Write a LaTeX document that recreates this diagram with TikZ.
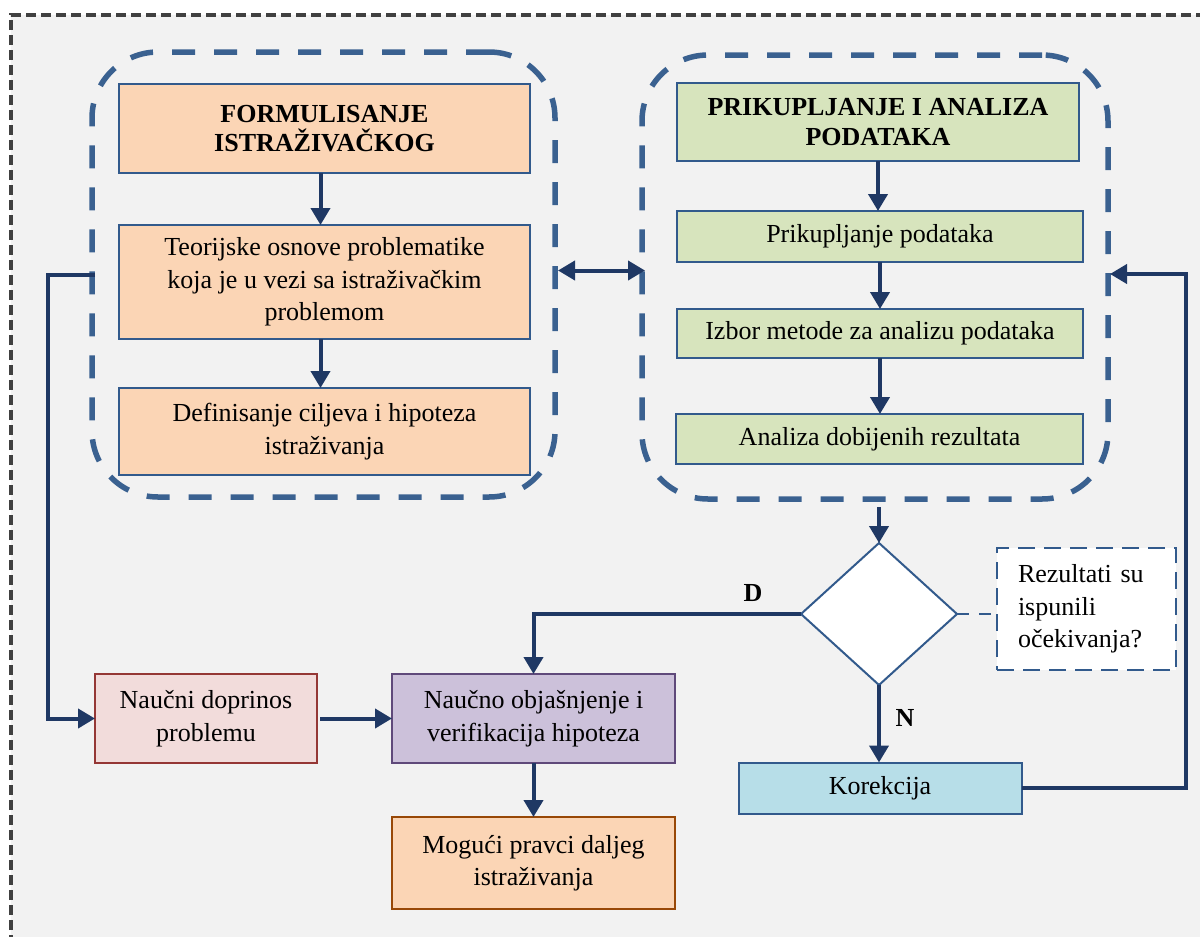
\documentclass[tikz,border=0pt]{standalone}
\usepackage{fontspec}
\setmainfont{Liberation Serif}
\usetikzlibrary{shapes.geometric,arrows.meta,calc}

\definecolor{pagegray}{HTML}{F2F2F2}
\definecolor{framegray}{HTML}{404040}
\definecolor{groupblue}{HTML}{3A6190}
\definecolor{boxblue}{HTML}{325A8C}
\definecolor{navy}{HTML}{1F3864}
\definecolor{peach}{HTML}{FBD5B5}
\definecolor{sage}{HTML}{D7E4BD}
\definecolor{skyfill}{HTML}{B7DEE8}
\definecolor{rosefill}{HTML}{F2DCDB}
\definecolor{roseline}{HTML}{953735}
\definecolor{lilacfill}{HTML}{CCC1DA}
\definecolor{lilacline}{HTML}{5F497A}
\definecolor{rustline}{HTML}{984807}

\begin{document}
\begin{tikzpicture}[x=1pt,y=-1pt,
  font=\fontsize{26}{32.5}\selectfont,
  box/.style={rectangle, draw=boxblue, line width=2pt, align=center,
    inner sep=0pt, outer sep=0pt},
  head/.style={box, font=\fontsize{26}{29.5}\selectfont\bfseries},
  group/.style={rectangle, draw=groupblue, line width=5.5pt,
    dash pattern=on 23pt off 19pt, rounded corners=66pt,
    inner sep=0pt, outer sep=0pt},
  tip/.tip={Triangle[length=17pt,width=19pt]},
  arr/.style={draw=navy, line width=4pt, -tip},
  darr/.style={draw=navy, line width=4pt, tip-tip},
  lbl/.style={font=\fontsize{26}{30}\selectfont\bfseries, inner sep=0pt}]

% page and outer dashed frame
\useasboundingbox (0,0) rectangle (1200,937);
\fill[white] (0,0) rectangle (1200,937);
\fill[pagegray] (11,15) rectangle (1230,960);
\draw[framegray, line width=3.5pt, dash pattern=on 10pt off 5pt]
  (11,960) -- (11,15) -- (1230,15);

% dashed groups
\node[group, minimum width=463pt, minimum height=445pt] (L) at (323.5,274.5) {};
\node[group, minimum width=466pt, minimum height=444pt] (R) at (875,277) {};

% left column
\node[head, fill=peach, minimum width=411pt, minimum height=89pt] (f1) at (324.5,128.5)
  {FORMULISANJE\\ISTRAŽIVAČKOG};
\node[box, fill=peach, minimum width=411pt, minimum height=114pt] (f2) at (324.5,282)
  {Teorijske osnove problematike\\koja je u vezi sa istraživačkim\\problemom};
\node[box, fill=peach, minimum width=411pt, minimum height=87pt] (f3) at (324.5,431.5)
  {Definisanje ciljeva i hipoteza\\istraživanja};

% right column
\node[head, fill=sage, minimum width=402pt, minimum height=78pt] (p1) at (878,122)
  {PRIKUPLJANJE I ANALIZA\\PODATAKA};
\node[box, fill=sage, minimum width=406pt, minimum height=51pt] (p2) at (880,236.5)
  {Prikupljanje podataka};
\node[box, fill=sage, minimum width=406pt, minimum height=49pt] (p3) at (880,333.5)
  {Izbor metode za analizu podataka};
\node[box, fill=sage, minimum width=407pt, minimum height=50pt] (p4) at (879.5,439)
  {Analiza dobijenih rezultata};

% decision
\node[diamond, draw=boxblue, line width=2pt, fill=white, inner sep=0pt, outer sep=0pt,
  minimum width=156pt, minimum height=142pt] (dia) at (879,614) {};
\node[box, fill=white, dash pattern=on 17pt off 9pt, minimum width=179pt,
  minimum height=122pt, text width=137pt, inner xsep=21pt, align=left]
  (cal) at (1086.5,609) {Rezultati su\\ispunili\\očekivanja?};
\node[box, fill=skyfill, minimum width=283pt, minimum height=51pt] (kor) at (880,788)
  {Korekcija};

% bottom row
\node[box, draw=roseline, fill=rosefill, minimum width=222pt, minimum height=89pt]
  (nd) at (206,718.5) {Naučni doprinos\\problemu};
\node[box, draw=lilacline, fill=lilacfill, minimum width=283pt, minimum height=89pt]
  (no) at (533.5,718.5) {Naučno objašnjenje i\\verifikacija hipoteza};
\node[box, draw=rustline, fill=peach, minimum width=283pt, minimum height=92pt]
  (mp) at (533.5,863) {Mogući pravci daljeg\\istraživanja};

% branch labels
\node[lbl] (dlab) at (753,593) {D};
\node[lbl] (nlab) at (905,718) {N};

% connectors
\draw[arr] ([xshift=-4pt]f1.south) -- ([xshift=-4pt]f2.north);
\draw[arr] ([xshift=-4pt]f2.south) -- ([xshift=-4pt]f3.north);
\draw[arr] (p1.south) -- (p1.south |- p2.north);
\draw[arr] (p2.south) -- (p2.south |- p3.north);
\draw[arr] (p3.south) -- (p3.south |- p4.north);
\draw[darr] ($(L.east)+(3,-4)$) -- ($(R.west)+(3,-6.5)$);
\draw[arr] ($(dia.north |- R.south)+(0,8)$) -- (dia.north);
\draw[arr] (dia.west) -| (no.north);
\draw[arr] (dia.south) -- (dia.south |- kor.north);
\draw[boxblue, line width=2.5pt, dash pattern=on 12pt off 10pt]
  (dia.east) -- (dia.east -| cal.west);
\draw[arr] (kor.east) -- ++(164,0) |- ($(R.east)+(2,-3)$);
\draw[arr] ($(L.west)+(3,0)$) -- ++(-47,0) |- (nd.west);
\draw[arr] ([xshift=3pt]nd.east) -- (no.west);
\draw[arr] (no.south) -- (mp.north);

\end{tikzpicture}
\end{document}
